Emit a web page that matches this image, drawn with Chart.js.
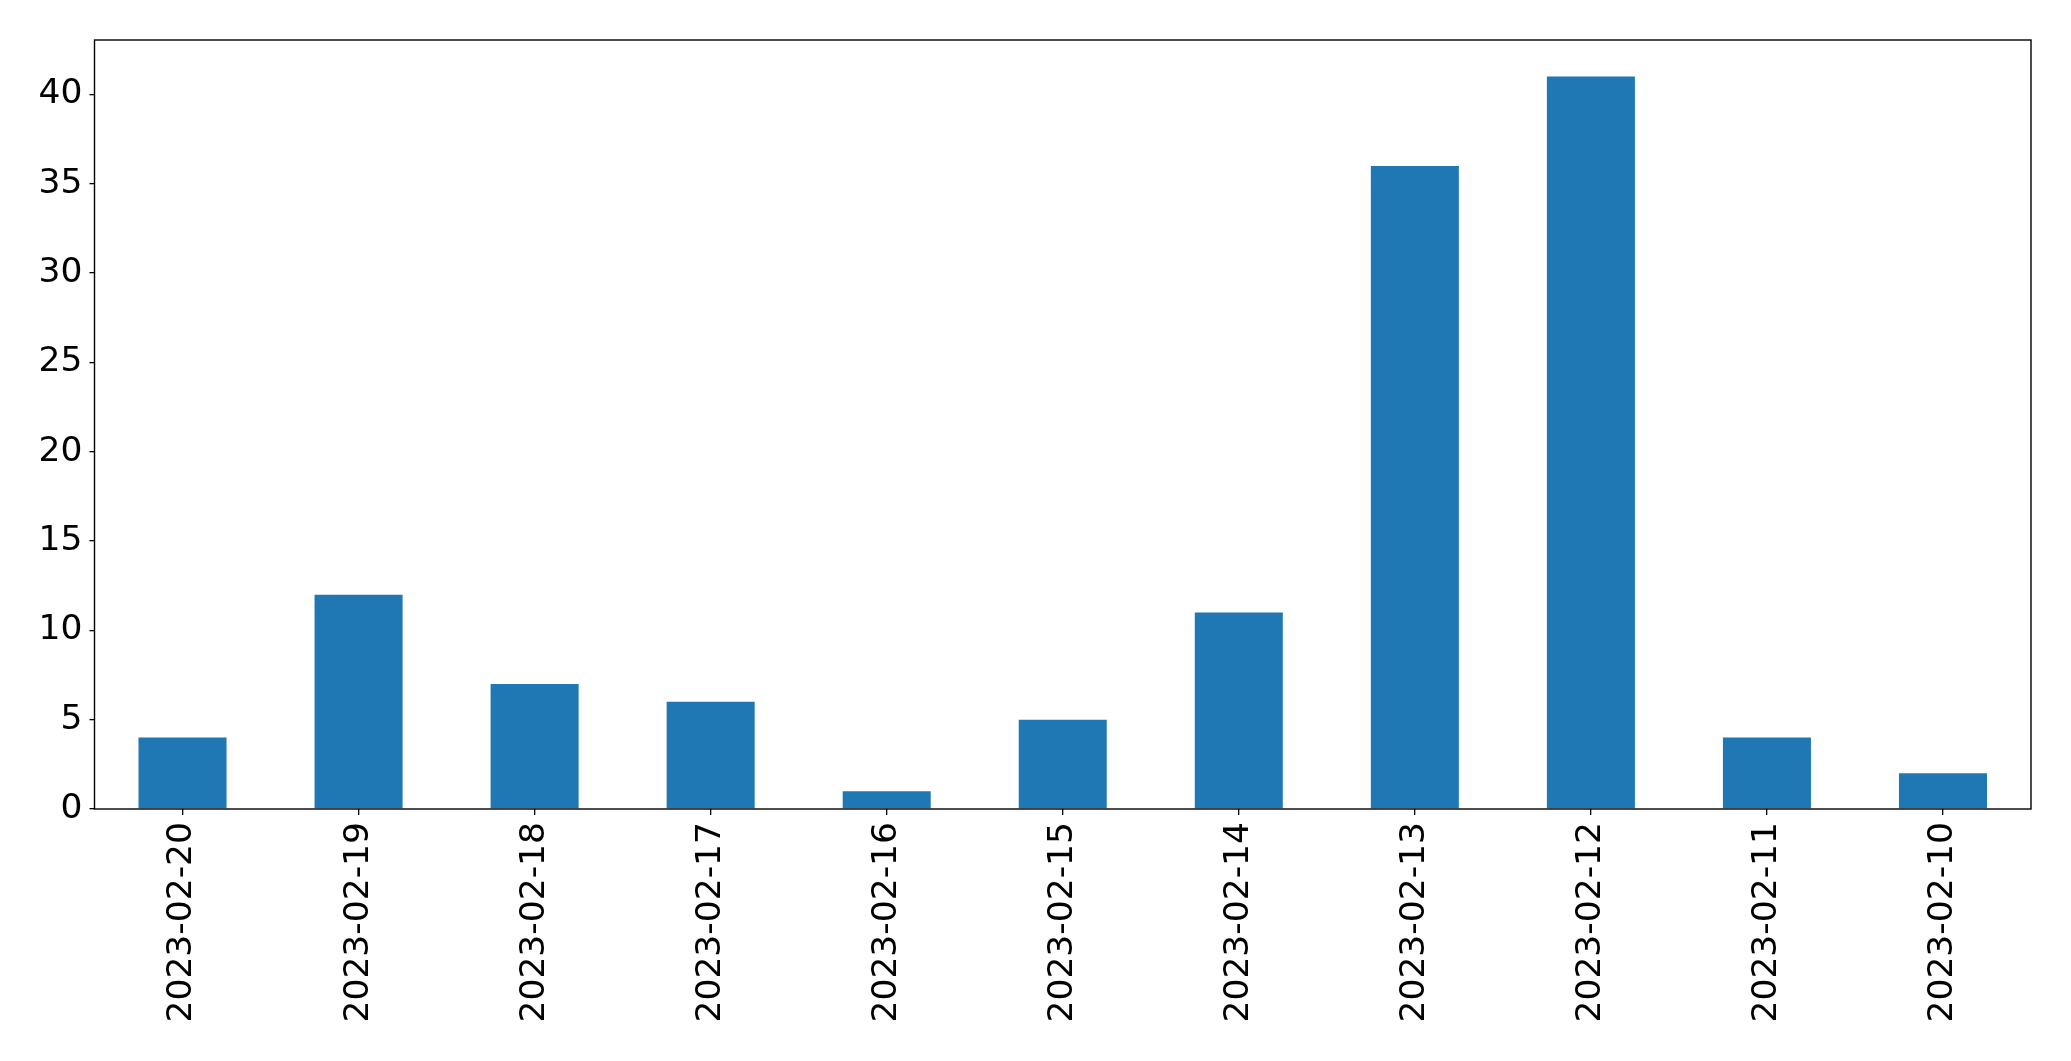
<!DOCTYPE html>
<html>
<head>
<meta charset="utf-8">
<script src="https://cdn.jsdelivr.net/npm/chart.js@4"></script>
<style>
  html, body { margin: 0; padding: 0; background: #fff; }
  #wrap { width: 2071px; height: 1061px; }
</style>
</head>
<body>
<div id="wrap"><canvas id="chart" width="2071" height="1061"></canvas></div>
<script>
// Daily counts, newest first (as in the original pandas plot).
const dates = [
  "2023-02-20", "2023-02-19", "2023-02-18", "2023-02-17", "2023-02-16", "2023-02-15",
  "2023-02-14", "2023-02-13", "2023-02-12", "2023-02-11", "2023-02-10",
];
const counts = [4, 12, 7, 6, 1, 5, 11, 36, 41, 4, 2];
const yTicks = [0, 5, 10, 15, 20, 25, 30, 35, 40];

const font = { family: "'DejaVu Sans', sans-serif", size: 34.5 };

// Box round the plot area, like the matplotlib axes frame.
const frame = {
  id: "frame",
  afterDraw(chart) {
    const { ctx, chartArea: a } = chart;
    ctx.save();
    ctx.strokeStyle = "#000";
    ctx.lineWidth = 1.4;
    ctx.strokeRect(a.left, a.top, a.right - a.left, a.bottom - a.top);
    ctx.restore();
  },
};

new Chart(document.getElementById("chart").getContext("2d"), {
  type: "bar",
  data: {
    labels: dates,
    datasets: [{
      data: counts,
      backgroundColor: "#1f77b4",
      borderWidth: 0,
      categoryPercentage: 1,
      barPercentage: 0.5,
    }],
  },
  options: {
    responsive: false,
    animation: false,
    devicePixelRatio: 1,
    layout: { padding: { left: 0, top: 40, right: 40, bottom: 0 } },
    plugins: { legend: { display: false }, tooltip: { enabled: false } },
    scales: {
      x: {
        offset: true,
        grid: { display: true, drawOnChartArea: false, drawTicks: true, tickLength: 6, offset: false, color: "#000", lineWidth: 1.3 },
        border: { display: false },
        ticks: { color: "#000", font, minRotation: 90, maxRotation: 90, padding: 7, autoSkip: false },
        afterFit: (s) => { s.height = 252; },
      },
      y: {
        min: 0,
        max: 43.05,
        afterBuildTicks: (s) => { s.ticks = yTicks.map((v) => ({ value: v })); },
        grid: { display: true, drawOnChartArea: false, drawTicks: true, tickLength: 5, color: "#000", lineWidth: 1.3 },
        border: { display: false },
        ticks: { color: "#000", font, padding: 7 },
        afterFit: (s) => { s.width = 94.5; },
      },
    },
  },
  plugins: [frame],
});
</script>
</body>
</html>
